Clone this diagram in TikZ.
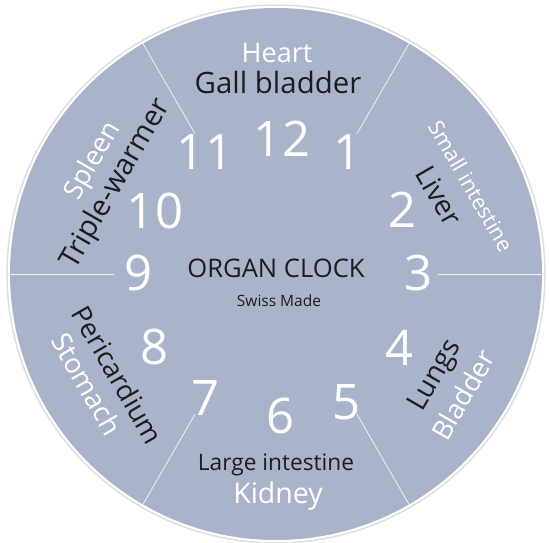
\documentclass[tikz,border=0pt]{standalone}
\usepackage{fontspec}
\setmainfont{Open Sans}
\usepackage{xcolor}
\usepackage{tikz}
\definecolor{dialblue}{RGB}{169,180,202}
\definecolor{organdark}{RGB}{28,28,30}
\newcommand{\fsz}[1]{\fontsize{#1}{#1}\selectfont}

\begin{document}
\begin{tikzpicture}[x=1pt, y=1pt,
  hour/.style={white, font=\fsz{49}},
  yin/.style={organdark, inner sep=0pt},
  yang/.style={white, inner sep=0pt}]
  \useasboundingbox (0,0) rectangle (549,542);
  % ================================================================
  % dial
  % ================================================================
  \coordinate (ctr) at (276,268);
  \draw[gray!25, line width=1.5] (ctr) circle (269);
  \fill[dialblue] (ctr) circle (266);
  % dividing lines -------------------------------------------------
  \foreach \a in {0,60,...,300}
    \draw[white!80!dialblue, line width=0.8] ([shift={(\a:162)}]ctr) -- ([shift={(\a:266)}]ctr);
  % hours ----------------------------------------------------------
  \foreach \n/\px/\py in {12/282/403, 1/348/390, 2/403/332, 3/419/269, 4/400/194, 5/347/140,
                          6/281/126, 7/206/144, 8/155/195, 9/139/269, 10/155/331, 11/205/390} {
    \node[hour] (h\n) at (\px,\py) {\n};
  }
  % centre ---------------------------------------------------------
  \node[yin, anchor=base, font=\fsz{25.6}] (title) at (276,264.7) {ORGAN CLOCK};
  \node[yin, anchor=base, font=\fsz{15.5}] (maker) at (279,235.3) {Swiss Made};
  % organs ---------------------------------------------------------
  \node[yang, anchor=base, font=\fsz{27}] (heart) at (277,479.3) {Heart};
  \node[yin, anchor=base, font=\fsz{29.4}] (gall) at (278,448) {Gall bladder};
  \node[yang, rotate=-60, font=\fsz{21.5}] (smallint) at (471,356) {Small intestine};
  \node[yin, rotate=-60, font=\fsz{28}] (liver) at (439,346) {Liver};
  \node[yin, rotate=60, font=\fsz{28}] (lungs) at (436,166) {Lungs};
  \node[yang, rotate=60, font=\fsz{27}] (bladder) at (463,147) {Bladder};
  \node[yin, anchor=base, font=\fsz{22.7}] (largeint) at (276,71.3) {Large intestine};
  \node[yang, anchor=base, font=\fsz{28.5}] (kidney) at (278,38.7) {Kidney};
  \node[yin, rotate=-60, font=\fsz{27.2}] (peri) at (118,167) {Pericardium};
  \node[yang, rotate=-60, font=\fsz{27.5}] (stomach) at (87,158) {Stomach};
  \node[yang, rotate=60, font=\fsz{27}] (spleen) at (93.5,381) {Spleen};
  \node[yin, rotate=60, font=\fsz{29}] (triple) at (116,358) {Triple-warmer};
\end{tikzpicture}
\end{document}
